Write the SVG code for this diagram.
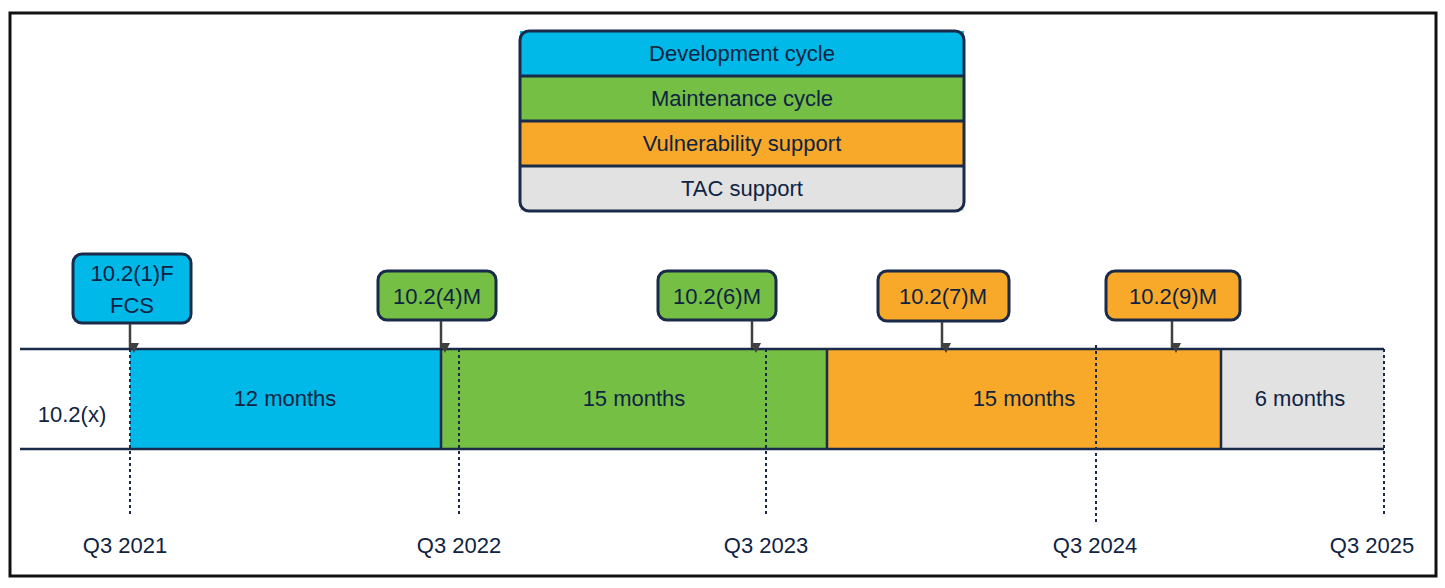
<svg xmlns="http://www.w3.org/2000/svg" width="1445" height="588" viewBox="0 0 1445 588">
<style>
text{font-family:"Liberation Sans",Arial,sans-serif;font-size:22px;fill:#0f2342;text-anchor:middle}
.ln{stroke:#1a2b4a;stroke-width:2.5}
.dot{stroke:#1a2b4a;stroke-width:2;stroke-dasharray:3 3}
.cb{stroke:#1a2b4a;stroke-width:3}
.ar{stroke:#404040;stroke-width:2.5;marker-end:url(#a)}
.blue{fill:#00b9e8}.green{fill:#74bf44}.orange{fill:#f8a92a}.grey{fill:#e2e2e2}
</style>
<defs><marker id="a" markerWidth="10" markerHeight="10" refX="5" refY="9" orient="auto" markerUnits="userSpaceOnUse" viewBox="0 0 10 10"><path d="M0,0 L10,0 L5,10 Z" fill="#404040" transform="rotate(-90 5 5)"/></marker></defs>
<rect x="0" y="0" width="1445" height="588" fill="#fff"/>
<rect x="10" y="13" width="1426" height="563" fill="none" stroke="#111" stroke-width="3"/>
<g id="legend">
<rect x="520" y="31" width="444" height="45" class="blue"/>
<rect x="520" y="76" width="444" height="45" class="green"/>
<rect x="520" y="121" width="444" height="45" class="orange"/>
<rect x="520" y="166" width="444" height="45" class="grey"/>
<rect x="520" y="31" width="444" height="180" rx="9" fill="none" class="cb"/>
<line x1="520" y1="76" x2="964" y2="76" class="cb"/><line x1="520" y1="121" x2="964" y2="121" class="cb"/><line x1="520" y1="166" x2="964" y2="166" class="cb"/>
<text x="742" y="61">Development cycle</text><text x="742" y="106">Maintenance cycle</text><text x="742" y="151">Vulnerability support</text><text x="742" y="196">TAC support</text>
</g>
<g id="bars">
<rect x="130" y="349" width="311" height="100" class="blue"/>
<rect x="441" y="349" width="386" height="100" class="green"/>
<rect x="827" y="349" width="394" height="100" class="orange"/>
<rect x="1221" y="349" width="163" height="100" class="grey"/>
<line x1="20" y1="349" x2="1384" y2="349" class="ln"/><line x1="20" y1="449" x2="1384" y2="449" class="ln"/>
<line x1="441" y1="349" x2="441" y2="449" class="ln"/><line x1="827" y1="349" x2="827" y2="449" class="ln"/><line x1="1221" y1="349" x2="1221" y2="449" class="ln"/>
<text x="285" y="406">12 months</text><text x="634" y="406">15 months</text><text x="1024" y="406">15 months</text><text x="1300" y="406">6 months</text>
<text x="72" y="422">10.2(x)</text>
</g>
<g id="ticks">
<line x1="130" y1="349" x2="130" y2="514" class="dot"/><line x1="459" y1="349" x2="459" y2="517" class="dot"/><line x1="766" y1="349" x2="766" y2="517" class="dot"/><line x1="1096" y1="345" x2="1096" y2="525" class="dot"/><line x1="1384" y1="349" x2="1384" y2="517" class="dot"/>
<text x="125" y="553">Q3 2021</text><text x="459" y="553">Q3 2022</text><text x="766" y="553">Q3 2023</text><text x="1095" y="553">Q3 2024</text><text x="1372" y="553">Q3 2025</text>
</g>
<g id="callouts">
<rect x="73" y="254" width="118" height="69" rx="9" class="blue cb"/><text x="132" y="281">10.2(1)F</text><text x="132" y="313">FCS</text>
<rect x="378" y="271" width="118" height="49" rx="9" class="green cb"/><text x="437" y="304">10.2(4)M</text>
<rect x="658" y="271" width="118" height="49" rx="9" class="green cb"/><text x="717" y="304">10.2(6)M</text>
<rect x="878" y="271" width="131" height="50" rx="9" class="orange cb"/><text x="943" y="304">10.2(7)M</text>
<rect x="1106" y="271" width="134" height="49" rx="9" class="orange cb"/><text x="1173" y="304">10.2(9)M</text>
</g>
<g id="connectors">
<line x1="130" y1="324" x2="130" y2="348" class="ar"/>
<line x1="441" y1="321" x2="441" y2="348" class="ar"/>
<line x1="752" y1="321" x2="752" y2="348" class="ar"/>
<line x1="942" y1="322" x2="942" y2="348" class="ar"/>
<line x1="1172" y1="321" x2="1172" y2="348" class="ar"/>
</g>
</svg>
